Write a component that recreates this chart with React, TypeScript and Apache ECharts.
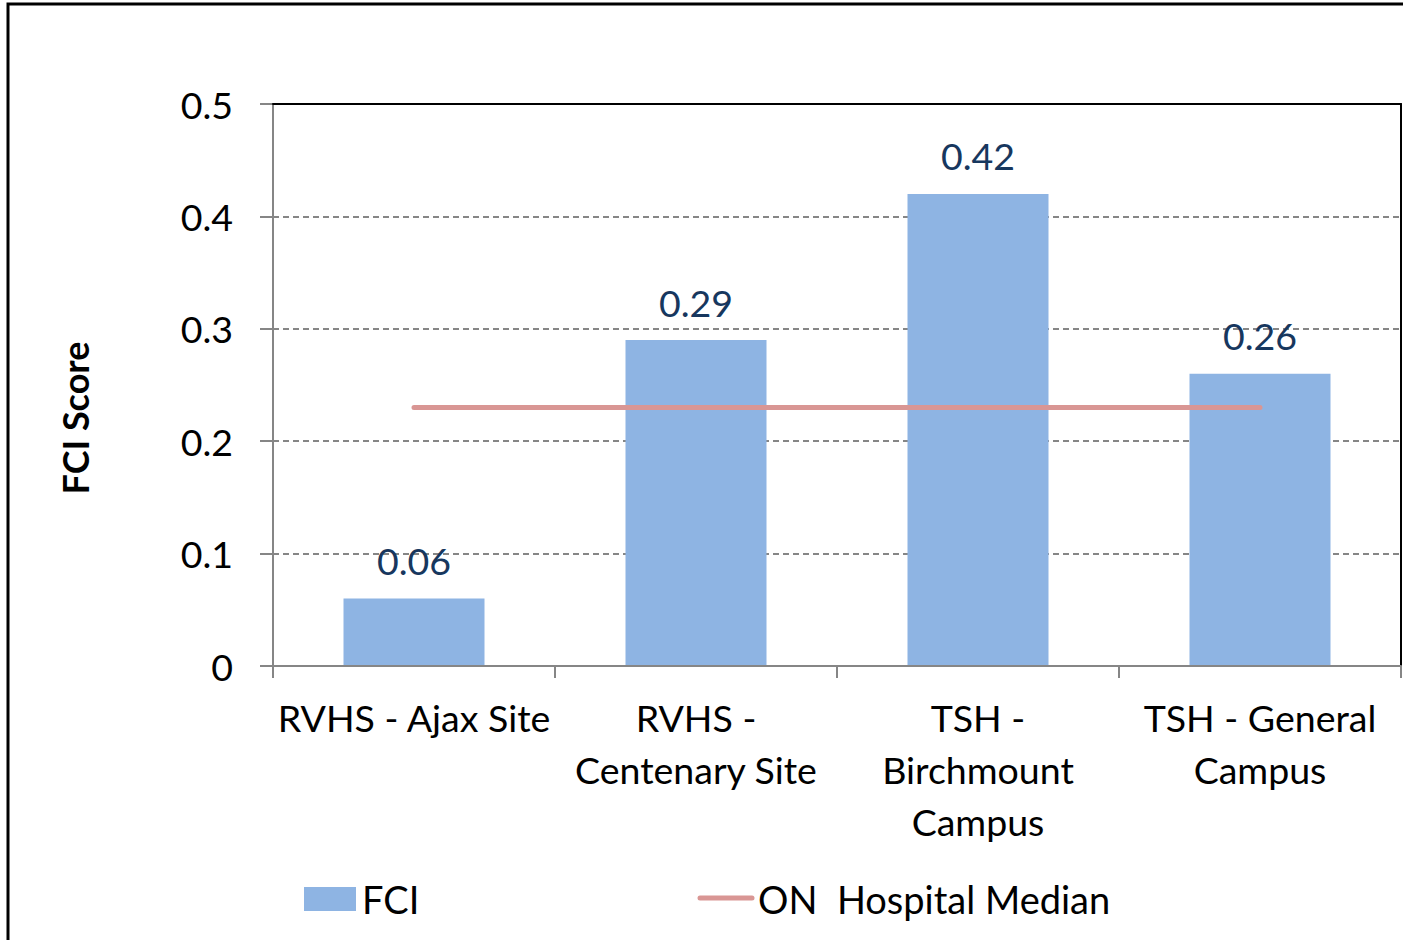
import React, { useEffect, useRef } from "react";
import * as echarts from "echarts";

const categories = [
  "RVHS - Ajax Site",
  "RVHS -\nCentenary Site",
  "TSH -\nBirchmount\nCampus",
  "TSH - General\nCampus",
];
const fciValues = [0.06, 0.29, 0.42, 0.26];
const medianValues = [0.23, 0.23, 0.23, 0.23];
const yTicks = { min: 0, max: 0.5, interval: 0.1 };
const seriesNames = ["FCI", "ON  Hospital Median"];
const yTitle = "FCI Score";

const FONT = "Lato";
const FS = 37.5;
const BAR = "#8EB4E3";
const LINE = "#D99694";

export default function App() {
  const ref = useRef<HTMLDivElement>(null);
  useEffect(() => {
    document.body.style.margin = "0";
    const chart = echarts.init(ref.current!, null, { renderer: "svg" });
    chart.setOption({
      animation: false,
      backgroundColor: "#fff",
      textStyle: { fontFamily: FONT },
      grid: { left: 273, top: 104, width: 1128, height: 562 },
      xAxis: [
        {
          type: "category",
          data: categories,
          boundaryGap: true,
          axisLine: { onZero: false, lineStyle: { color: "#868686", width: 2 } },
          axisTick: { show: true, length: 12, lineStyle: { color: "#868686", width: 2 } },
          axisLabel: {
            fontSize: FS,
            color: "#000",
            margin: 25,
            lineHeight: 52,
            interval: 0,
            fontFamily: FONT,
          },
          z: 6,
        },
        {
          type: "category",
          data: categories,
          position: "top",
          axisLine: { show: true, onZero: false, lineStyle: { color: "#000", width: 2 } },
          axisTick: { show: false },
          axisLabel: { show: false },
          splitLine: { show: false },
          z: 6,
        },
      ],
      yAxis: [
        {
          type: "value",
          min: yTicks.min,
          max: yTicks.max,
          interval: yTicks.interval,
          axisLine: { show: true, onZero: false, lineStyle: { color: "#868686", width: 2 } },
          axisTick: { show: true, length: 13, lineStyle: { color: "#868686", width: 2 } },
          axisLabel: {
            fontSize: FS,
            color: "#000",
            margin: 40,
            fontFamily: FONT,
            formatter: (v: number) => (v === 0 ? "0" : String(Math.round(v * 10) / 10)),
          },
          splitLine: { show: true, lineStyle: { color: "#868686", type: [6, 4], width: 2 } },
          z: 1,
        },
        {
          type: "value",
          min: yTicks.min,
          max: yTicks.max,
          interval: yTicks.interval,
          position: "right",
          axisLine: { show: true, onZero: false, lineStyle: { color: "#000", width: 2 } },
          axisTick: { show: false },
          axisLabel: { show: false },
          splitLine: { show: false },
          z: 6,
        },
      ],
      series: [
        {
          name: seriesNames[0],
          type: "bar",
          data: fciValues,
          barWidth: "50%",
          itemStyle: { color: BAR },
          label: {
            show: true,
            position: "top",
            distance: 19,
            fontSize: FS,
            color: "#17375E",
            fontFamily: FONT,
            formatter: (p: any) => p.value.toFixed(2),
          },
          z: 2,
        },
        {
          name: seriesNames[1],
          type: "line",
          data: medianValues,
          symbol: "none",
          lineStyle: { color: LINE, width: 5, cap: "round" },
          itemStyle: { color: LINE },
          z: 3,
        },
      ],
      graphic: [
        {
          type: "rect",
          shape: { x: 8, y: 4, width: 1420, height: 960 },
          style: { fill: "none", stroke: "#000", lineWidth: 3 },
          silent: true,
        },
        {
          type: "text",
          x: 75,
          y: 418,
          rotation: Math.PI / 2,
          style: {
            text: yTitle,
            fontSize: 36,
            fontWeight: "bold",
            fontFamily: FONT,
            fill: "#000",
            align: "center",
            verticalAlign: "middle",
          },
        },
        {
          type: "rect",
          shape: { x: 304, y: 887, width: 52, height: 24 },
          style: { fill: BAR },
        },
        {
          type: "text",
          x: 362,
          y: 899,
          style: {
            text: seriesNames[0],
            fontSize: 38,
            fontFamily: FONT,
            fill: "#000",
            align: "left",
            verticalAlign: "middle",
          },
        },
        {
          type: "line",
          shape: { x1: 700, y1: 898, x2: 752, y2: 898 },
          style: { stroke: LINE, lineWidth: 5, lineCap: "round" },
        },
        {
          type: "text",
          x: 758,
          y: 899,
          style: {
            text: seriesNames[1],
            fontSize: 38,
            fontFamily: FONT,
            fill: "#000",
            align: "left",
            verticalAlign: "middle",
          },
        },
      ],
    });
    return () => chart.dispose();
  }, []);
  return <div ref={ref} style={{ width: 1403, height: 940 }} />;
}
